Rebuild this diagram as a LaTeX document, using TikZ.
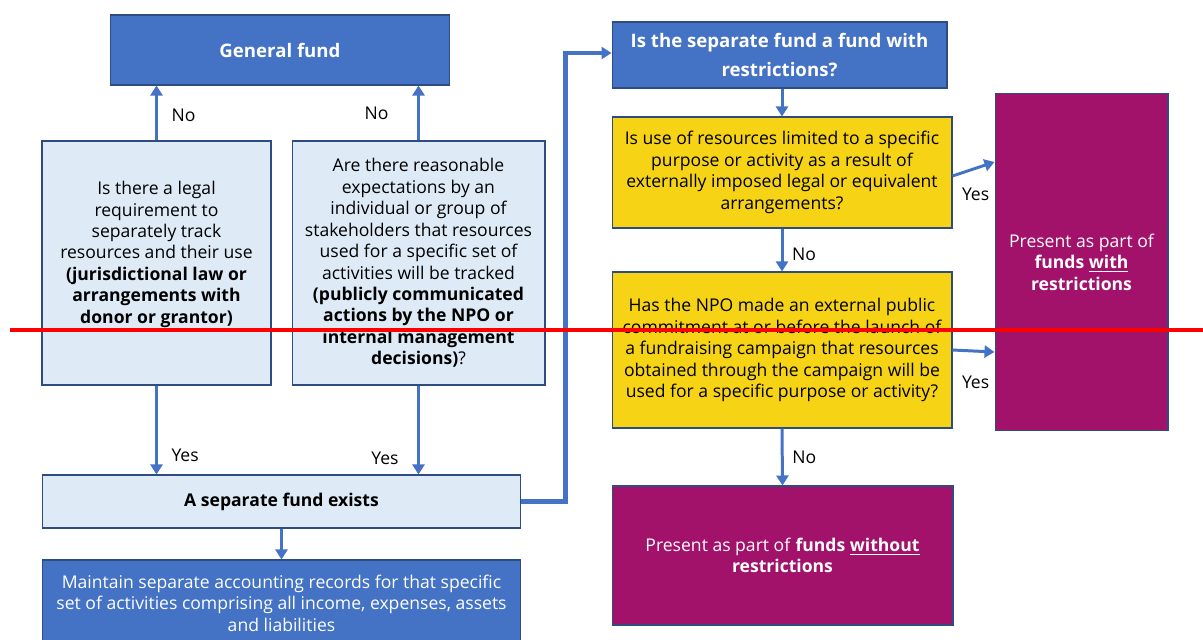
\documentclass[tikz,border=0pt]{standalone}
\usepackage{fontspec}
\setmainfont{Open Sans}
\usetikzlibrary{arrows.meta}
\definecolor{fundblue}{HTML}{4472C4}
\definecolor{edgeblue}{HTML}{2F4C80}
\definecolor{paleblue}{HTML}{DEEBF7}
\definecolor{gold}{HTML}{F6D415}
\definecolor{plum}{HTML}{A2126A}
\definecolor{strike}{HTML}{FF0000}
\newcommand{\bodyfont}{\fontsize{10}{12.2}\selectfont}
\newcommand{\titlefont}{\fontsize{10.6}{16}\selectfont\bfseries}
\tikzset{
  flow/.style={
    -{Triangle[length=2mm,width=2.4mm]},
    draw=fundblue,
    line width=1.7pt
  },
  heading/.style={
    draw=edgeblue,
    fill=fundblue,
    line width=0.6pt,
    align=center,
    inner sep=2pt,
    text=white,
    font=\titlefont
  },
  question/.style={
    draw=edgeblue,
    fill=paleblue,
    line width=0.6pt,
    align=center,
    inner sep=2pt,
    font=\bodyfont
  },
  criterion/.style={
    draw=edgeblue,
    fill=gold,
    line width=0.6pt,
    align=center,
    inner sep=2pt,
    font=\bodyfont
  },
  outcome/.style={
    draw=edgeblue,
    fill=plum,
    line width=0.6pt,
    align=center,
    inner sep=2pt,
    text=white,
    font=\bodyfont
  },
  edge label/.style={
    inner sep=2pt,
    font=\bodyfont
  }
}

\begin{document}
\begin{tikzpicture}[x=0.02cm,y=-0.02cm]
  \useasboundingbox (0,0) rectangle (1203,639);

  \node[heading,minimum width=68mm,minimum height=14mm]
    (general-fund) at (280,50) {General fund};
  \node[question,minimum width=45.8mm,minimum height=48.8mm]
    (q-legal) at (156.5,263) {
    Is there a legal\\
    requirement to\\
    separately track\\
    resources and their use\\
    \textbf{(jurisdictional law or}\\
    \textbf{arrangements with}\\
    \textbf{donor or grantor)}\\
    ~
  };
  \node[question,minimum width=50.6mm,minimum height=48.8mm]
    (q-expect) at (418.5,263) {
    Are there reasonable\\
    expectations by an\\
    individual or group of\\
    stakeholders that resources\\
    used for a specific set of\\
    activities will be tracked\\
    \textbf{(publicly communicated}\\
    \textbf{actions by the NPO or}\\
    \textbf{internal management}\\
    \textbf{decisions)}?
  };
  \node[question,minimum width=95.8mm,minimum height=10.6mm,font=\bodyfont\bfseries]
    (fund-exists) at (281.5,501.5) {A separate fund exists};
  \node[heading,minimum width=95.8mm,minimum height=17.2mm,font=\bodyfont]
    (maintain) at (281.5,603) {
    Maintain separate accounting records for that specific\\
    set of activities comprising all income, expenses, assets\\
    and liabilities
  };

  \node[heading,minimum width=67mm,minimum height=13.2mm]
    (q-restrict) at (779.5,55) {
    Is the separate fund a fund with\\
    restrictions?
  };
  \node[criterion,minimum width=68mm,minimum height=22.2mm]
    (q-limited) at (782,172.5) {
    Is use of resources limited to a specific\\
    purpose or activity as a result of\\
    externally imposed legal or equivalent\\
    arrangements?
  };
  \node[criterion,minimum width=68mm,minimum height=31.2mm]
    (q-commit) at (782,350) {
    Has the NPO made an external public\\
    commitment at or before the launch of\\
    a fundraising campaign that resources\\
    obtained through the campaign will be\\
    used for a specific purpose or activity?
  };
  \node[outcome,minimum width=34.6mm,minimum height=67.6mm]
    (with-restr) at (1081.5,262) {
    Present as part of\\
    \textbf{funds \underline{with}}\\
    \textbf{restrictions}
  };
  \node[outcome,minimum width=68.2mm,minimum height=27.8mm]
    (without-restr) at (782.5,555.5) {
    Present as part of \textbf{funds \underline{without}}\\
    \textbf{restrictions}
  };

  \draw[flow] (q-legal.north) --
    node[edge label,right=2mm,pos=0.45] {No}
    (q-legal.north |- general-fund.south);
  \draw[flow] (q-expect.north) --
    node[edge label,left=5mm,pos=0.5] {No}
    (q-expect.north |- general-fund.south);
  \draw[flow] (q-legal.south) --
    node[edge label,right=2mm,pos=0.78] {Yes}
    (q-legal.south |- fund-exists.north);
  \draw[flow] (q-expect.south) --
    node[edge label,left=3mm,pos=0.82] {Yes}
    (q-expect.south |- fund-exists.north);
  \draw[flow] (fund-exists.south) -- (maintain.north);
  \draw[flow,line width=2.4pt] (fund-exists.east) -- ++(44,0) |-
    (q-restrict.west |- 0,53);

  \draw[flow] (q-restrict.south -| q-limited.north) -- (q-limited.north);
  \draw[flow] (q-limited.south) --
    node[edge label,right=1mm,pos=0.6] {No} (q-commit.north);
  \draw[flow] (q-commit.south) --
    node[edge label,right=1mm,pos=0.5] {No} (without-restr.north);
  \draw[flow] (q-limited.east |- 0,176) --
    node[edge label,below=3mm,pos=0.55] {Yes} (with-restr.west |- 0,162);
  \draw[flow] (q-commit.east) --
    node[edge label,below=4mm,pos=0.55] {Yes} (with-restr.west |- 0,352);

  \draw[strike,line width=2.3pt] (10,330) -- (1203,330);
\end{tikzpicture}
\end{document}
